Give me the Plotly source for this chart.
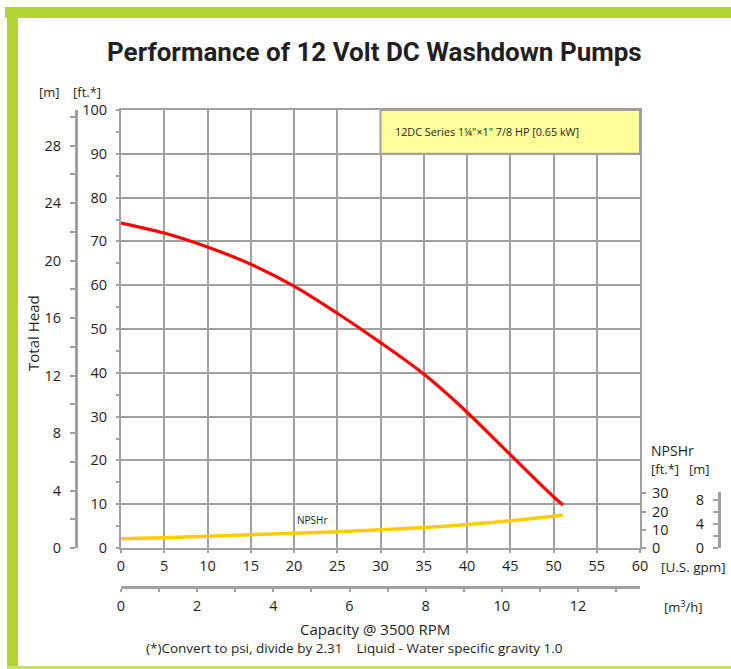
import plotly.graph_objects as go

# ---------------- data ----------------
flow_gpm = [0, 5, 10, 15, 20, 25, 30, 35, 40, 45, 50, 51.1]
head_ft = [74.2, 71.9, 68.7, 64.8, 59.8, 53.6, 46.9, 39.7, 31.0, 21.3, 11.7, 9.8]
npshr_ft = [5.1, 5.7, 6.5, 7.3, 8.1, 8.9, 10.0, 11.2, 12.9, 15.0, 17.4, 18.1]

gpm_ticks = list(range(0, 61, 5))
ft_ticks = list(range(0, 101, 10))
m_ticks = list(range(0, 29, 4))
npsh_ft_ticks = [0, 10, 20, 30]
npsh_m_ticks = [0, 4, 8]
m3h_ticks = list(range(0, 13, 2))

FT_PER_M = 3.28084
GPM_TO_M3H = 0.22712

# ---------------- geometry helpers ----------------
W, H = 731, 669
L, R, T, B = 76, 719, 110, 587           # paper area in pixels
PW, PH = R - L, B - T


def px(x):
    return (x - L) / PW


def py(y):
    return (B - y) / PH


x_dom = [px(121), px(640)]
y_dom = [py(548), 1.0]
npsh_px_per_ft = 1.82
plot_h = 548 - 110
npsh_ft_range = plot_h / npsh_px_per_ft
npsh_m_dom = [py(548), py(492)]
npsh_m_range = (548 - 492) / (npsh_px_per_ft * FT_PER_M)

GRID = "#a0a0a0"
TXT = "#231f20"
FONT = "Open Sans, Noto Sans, sans-serif"
TITLE_FONT = "Roboto, Liberation Sans, sans-serif"
GREEN = "#b3d335"

fig = go.Figure()

fig.add_trace(go.Scatter(x=flow_gpm, y=head_ft, mode="lines",
                         line=dict(color="#ff0000", width=3.2, shape="spline", smoothing=0.9),
                         xaxis="x", yaxis="y", showlegend=False, hoverinfo="skip"))
fig.add_trace(go.Scatter(x=flow_gpm, y=npshr_ft, mode="lines",
                         line=dict(color="#ffcc00", width=3.5, shape="spline", smoothing=0.8),
                         xaxis="x", yaxis="y3", showlegend=False, hoverinfo="skip"))
# carriers so the secondary axes are drawn
fig.add_trace(go.Scatter(x=[0], y=[0], mode="markers", marker=dict(opacity=0),
                         xaxis="x", yaxis="y2", showlegend=False, hoverinfo="skip"))
fig.add_trace(go.Scatter(x=[0], y=[0], mode="markers", marker=dict(opacity=0),
                         xaxis="x2", yaxis="y", showlegend=False, hoverinfo="skip"))
fig.add_trace(go.Scatter(x=[0], y=[0], mode="markers", marker=dict(opacity=0),
                         xaxis="x3", yaxis="y4", showlegend=False, hoverinfo="skip"))

tickf = dict(family=FONT, size=14.5, color=TXT)

fig.update_layout(
    width=W, height=H, autosize=False,
    margin=dict(l=L, r=W - R, t=T, b=H - B, pad=0, autoexpand=False),
    paper_bgcolor="white", plot_bgcolor="rgba(0,0,0,0)",
    showlegend=False,
    xaxis=dict(domain=x_dom, range=[0, 60], tickvals=gpm_ticks, ticks="outside", ticklen=3,
               tickcolor=GRID, tickwidth=2, showgrid=True, gridcolor=GRID, gridwidth=2,
               showline=True, linecolor=GRID, linewidth=2, mirror=True, zeroline=False,
               tickfont=tickf, anchor="y", ticklabelstandoff=1, automargin=False),
    xaxis2=dict(overlaying="x", anchor="free", position=0, side="bottom",
                range=[0, 60 * GPM_TO_M3H], tickvals=m3h_ticks, ticks="outside", ticklen=3,
                tickcolor=GRID, tickwidth=2, showgrid=False, zeroline=False,
                showline=True, linecolor=GRID, linewidth=3, tickfont=tickf,
                minor=dict(dtick=1, ticks="outside", ticklen=3, tickcolor=GRID, tickwidth=2),
                ticklabelstandoff=2, automargin=False),
    xaxis3=dict(domain=x_dom, range=[0, 60], anchor="y4", visible=False, automargin=False),
    yaxis=dict(domain=y_dom, range=[0, 100], tickvals=ft_ticks, ticks="outside", ticklen=3,
               tickcolor=GRID, tickwidth=2, showgrid=True, gridcolor=GRID, gridwidth=2,
               showline=True, linecolor=GRID, linewidth=2, mirror=True, zeroline=False,
               minor=dict(dtick=5, ticks="outside", ticklen=3, tickcolor=GRID, tickwidth=2),
               tickfont=tickf, anchor="x", ticklabelstandoff=6, automargin=False),
    yaxis2=dict(overlaying="y", anchor="free", position=0, side="left",
                range=[0, 100 / FT_PER_M], tickvals=m_ticks, ticks="outside", ticklen=5,
                tickcolor=GRID, tickwidth=2, showgrid=False, zeroline=False,
                showline=True, linecolor=GRID, linewidth=3,
                minor=dict(dtick=2, ticks="outside", ticklen=5, tickcolor=GRID, tickwidth=2),
                tickfont=tickf, ticklabelstandoff=6, automargin=False),
    yaxis3=dict(overlaying="y", anchor="x", side="right", range=[0, npsh_ft_range],
                tickvals=npsh_ft_ticks, ticks="outside", ticklen=5, tickcolor=GRID, tickwidth=2,
                showgrid=False, zeroline=False, showline=False, tickfont=tickf,
                ticklabelstandoff=3, automargin=False),
    yaxis4=dict(domain=npsh_m_dom, anchor="free", position=1, side="left",
                range=[0, npsh_m_range], tickvals=npsh_m_ticks, ticks="outside", ticklen=5,
                tickcolor=GRID, tickwidth=2, showgrid=False, zeroline=False,
                showline=True, linecolor=GRID, linewidth=3,
                minor=dict(dtick=2, ticks="outside", ticklen=5, tickcolor=GRID, tickwidth=2),
                tickfont=tickf, ticklabelstandoff=6, automargin=False),
)

# legend-like yellow box (data coords of the main axes)
fig.add_shape(type="rect", xref="x", yref="y", x0=30, x1=60, y0=90, y1=100,
              fillcolor="#ffff99", line=dict(color=GRID, width=2), layer="above")


# green frame
def prect(x0, y0, x1, y1, color):
    fig.add_shape(type="rect", xref="paper", yref="paper",
                  x0=px(x0), x1=px(x1), y0=py(y1), y1=py(y0),
                  fillcolor=color, line=dict(width=0), layer="above")


prect(5, 7, 731, 18, GREEN)
prect(7, 7, 18, 669, GREEN)
prect(7, 666, 731, 669, "#c8e070")


def ann(x, y, text, size=13, xanchor="center", yanchor="middle", textangle=0,
        family=FONT, color=TXT):
    fig.add_annotation(xref="paper", yref="paper", x=px(x), y=py(y), text=text,
                       showarrow=False, xanchor=xanchor, yanchor=yanchor,
                       textangle=textangle, font=dict(family=family, size=size, color=color))


ann(374, 52, "<b>Performance of 12 Volt DC Washdown Pumps</b>", size=26, family=TITLE_FONT)
ann(49, 92, "[m]", size=13)
ann(87, 92, "[ft.*]", size=13)
ann(33, 333, "Total Head", size=15, textangle=-90)
ann(649, 450, "NPSHr", size=14, xanchor="left")
ann(649, 469, "[ft.*]", size=13, xanchor="left")
ann(687, 469, "[m]", size=13, xanchor="left")
ann(659, 567, "[U.S. gpm]", size=13.5, xanchor="left")
ann(662, 606, "[m<sup>3</sup>/h]", size=13, xanchor="left")
ann(375, 629, "Capacity @ 3500 RPM", size=15)
ann(354, 648, "(*)Convert to psi, divide by 2.31    Liquid - Water specific gravity 1.0", size=13.5)
ann(393, 131, "12DC Series 1¼\"×1\" 7/8 HP [0.65 kW]", size=10.8, xanchor="left")
ann(312, 520, "NPSHr", size=10)

fig.write_html("out.html", config={"displayModeBar": False, "responsive": False},
               post_script="document.body.style.margin='0px';document.body.style.overflow='hidden';")
